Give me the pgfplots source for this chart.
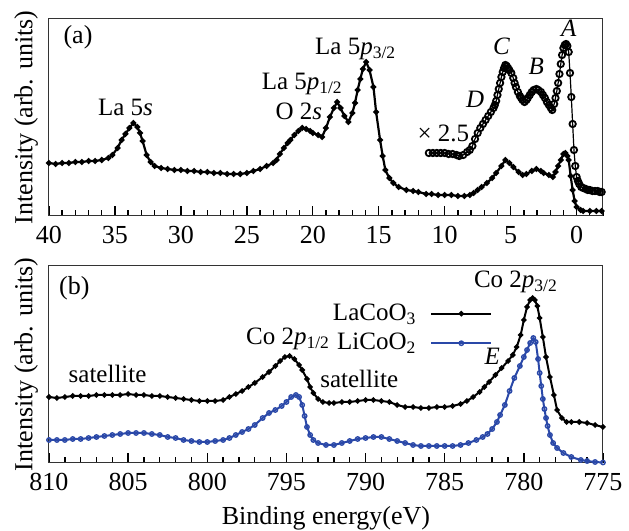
\documentclass[border=0pt]{standalone}
\usepackage{fontspec}
\setmainfont{Liberation Serif}
\usepackage{pgfplots}
\pgfplotsset{compat=1.18}
\definecolor{lcblue}{RGB}{42,72,168}
\newcommand{\tfont}{\fontsize{13}{15}\selectfont}
\newcommand{\afont}{\fontsize{12.5}{14}\selectfont}
\pgfplotsset{
  xpsstyle/.style={
    width=277pt, height=98.5pt, scale only axis,
    x dir=reverse, ymin=0, ymax=197,
    ytick=\empty, xtick align=inside,
    xtick pos=bottom,
    major tick length=5pt, minor tick length=3pt,
    axis line style={black!80, line width=0.5pt},
    every x tick/.append style={draw=black, line width=0.7pt},
    every minor tick/.append style={draw=black, line width=0.7pt},
    ticklabel style={font=\tfont},
    xticklabel style={yshift=-1.5pt},
    /pgf/number format/assume math mode=true,
    ylabel={Intensity (arb. units)},
    ylabel style={font=\tfont, at={(axis description cs:-0.03,0.5)}, anchor=base},
    clip=false,
  },
  legend image code/.code={\draw[mark repeat=2,mark phase=2,#1] plot coordinates {(0pt,0pt) (15pt,0pt) (30pt,0pt)};},
}
\begin{document}
\begin{tikzpicture}
\useasboundingbox (0,0) rectangle (314.5pt,265.5pt);
% ---------------- panel (a)
\begin{axis}[xpsstyle, at={(24.5pt,157.5pt)}, anchor=south west,
  xmin=-2, xmax=40, xtick={0,5,10,15,20,25,30,35,40}, minor xtick={-2,-1,1,2,3,4,6,7,8,9,11,12,13,14,16,17,18,19,21,22,23,24,26,27,28,29,31,32,33,34,36,37,38,39}]
\addplot[black, line width=1.1pt, mark=*, mark size=0.85pt] coordinates {
(40,53) (39.5,52) (39,53) (38.5,53) (38,54) (37.5,54) (37,55) (36.5,55) (36,56) (35.5,58) (35.2,61) (34.8,68) (34.5,76) (34.2,82) (33.9,88) (33.6,93) (33.3,89) (33.1,83) (32.9,75) (32.6,61) (32.3,54) (32.0,50) (31.5,48) (31,47) (30.5,46) (30,46) (29.5,45) (29,45) (28.5,44) (28,44) (27.5,43) (27,43) (26.5,42) (26,42) (25.5,42) (25,43) (24.5,45) (24,47) (23.5,50) (23,53) (22.75,56) (22.5,62) (22.2,68) (21.9,73) (21.7,76) (21.4,81) (21.1,85) (20.8,88) (20.5,87) (20.2,85) (20.0,83) (19.6,81) (19.3,79) (19.0,88) (18.7,99) (18.4,108) (18.15,114) (17.9,108) (17.6,100) (17.3,94) (17.0,103) (16.8,113) (16.6,126) (16.4,137) (16.2,147) (15.95,154) (15.7,146) (15.4,129) (15.2,104) (14.9,76) (14.7,60) (14.5,46) (14.2,38) (13.9,33) (13.5,29) (12.9,26) (12.4,25) (12.0,24) (11.4,22) (11,22) (10.5,21) (10,21) (9.5,21) (9,20) (8.5,20) (8.1,21) (7.8,23) (7.5,26) (7.2,29) (6.8,33) (6.4,38) (6.1,43) (5.7,50) (5.4,56) (5.1,53) (4.8,49) (4.4,44) (4.1,41) (3.8,42) (3.4,45) (3.05,47) (2.7,45) (2.5,43) (2.1,41) (1.8,39) (1.6,44) (1.4,50) (1.2,56) (1.0,62) (0.85,63) (0.7,60) (0.6,56) (0.45,40) (0.3,26) (0.15,15) (0.0,9) (-0.3,6) (-0.5,5) (-1,5) (-1.5,5) (-1.9,5)
};
\addplot[black, line width=0.6pt, mark=o, mark size=1.6pt, mark options={line width=0.9pt}] coordinates {
(11.2,63) (10.9,63) (10.6,63) (10.3,63) (10,63) (9.7,62) (9.4,62) (9.1,61) (8.9,60) (8.6,61) (8.3,64) (8.1,66) (7.9,70) (7.7,77) (7.5,83) (7.3,88) (7.1,92) (6.9,96) (6.7,100) (6.5,104) (6.3,108) (6.2,111) (6.1,115) (6.0,121) (5.9,127) (5.8,133) (5.7,139) (5.6,144) (5.5,148) (5.4,151) (5.3,150) (5.2,148) (5.1,146) (4.95,143) (4.8,138) (4.7,133) (4.6,129) (4.45,124) (4.3,120) (4.2,118) (4.1,116) (3.95,114) (3.8,116) (3.7,118) (3.55,121) (3.4,124) (3.25,126) (3.05,127) (2.9,126) (2.7,124) (2.55,121) (2.4,118) (2.25,114) (2.1,111) (1.95,108) (1.85,106) (1.7,112) (1.6,118) (1.5,125) (1.4,133) (1.3,142) (1.2,152) (1.1,161) (1.0,168) (0.9,171) (0.8,172) (0.7,170) (0.6,164) (0.5,143) (0.4,119) (0.3,92) (0.2,66) (0.1,50) (0.0,39) (-0.1,35) (-0.2,32) (-0.35,29) (-0.5,28) (-0.7,27) (-0.85,26) (-1.0,26) (-1.2,25) (-1.4,25) (-1.6,25) (-1.75,24) (-1.9,24)
};
\node[font=\tfont] at (axis cs:37.8,179) {(a)};
\node[font=\afont, anchor=base] at (axis cs:34.2,100) {La 5\textit{s}};
\node[font=\afont, anchor=base] at (axis cs:20.8,126) {La 5\textit{p}\textsubscript{1/2}};
\node[font=\afont, anchor=base] at (axis cs:21.05,96) {O 2\textit{s}};
\node[font=\afont, anchor=base] at (axis cs:16.75,161) {La 5\textit{p}\textsubscript{3/2}};
\node[font=\afont, anchor=base] at (axis cs:10.1,74) {× 2.5};
\node[font=\afont\itshape, anchor=base] at (axis cs:7.7,108) {D};
\node[font=\afont\itshape, anchor=base] at (axis cs:5.7,161) {C};
\node[font=\afont\itshape, anchor=base] at (axis cs:3.05,141) {B};
\node[font=\afont\itshape, anchor=base] at (axis cs:0.6,179) {A};
\end{axis}
% ---------------- panel (b)
\begin{axis}[xpsstyle, at={(24.5pt,34pt)}, anchor=south west,
  xmin=775, xmax=810, xtick={775,780,785,790,795,800,805,810}, minor xtick={776,777,778,779,781,782,783,784,786,787,788,789,791,792,793,794,796,797,798,799,801,802,803,804,806,807,808,809},
  xlabel={Binding energy(eV)},
  xlabel style={font=\tfont, at={(axis description cs:0.5,0)}, anchor=base, yshift=-31pt},
  legend style={at={(axis description cs:0.801,0.83)}, anchor=north east, draw=none, fill=none,
    font=\afont, inner sep=0pt, column sep=5pt, row sep=1pt},
  legend plot pos=right, legend cell align=right]
\addplot[black, line width=1pt, mark=*, mark size=0.8pt] coordinates {
(810,66) (809.5,65) (809,66) (808.5,67) (808,67) (807.5,67) (807,68) (806.5,68) (806,68) (805.5,68) (805,69) (804.5,68) (804,68) (803.5,67) (803,67) (802.5,66) (802,65) (801.5,64) (801,63) (800.5,62) (800,62) (799.5,62) (799,63) (798.6,66) (798.2,69) (797.8,72) (797.4,76) (797,80) (796.5,86) (796.1,91) (795.7,97) (795.4,102) (795.1,106) (794.8,107) (794.5,104) (794.2,98) (794.0,93) (793.7,84) (793.5,76) (793.3,70) (793.0,64) (792.7,61) (792.3,60) (792,60) (791.5,61) (791,61) (790.5,62) (790,63) (789.5,63) (789,62) (788.5,61) (788,58) (787.5,56) (787,56) (786.5,55) (786,55) (785.5,56) (785,56) (784.5,57) (784,59) (783.6,62) (783.2,66) (782.8,71) (782.5,76) (782.2,81) (781.8,88) (781.4,95) (781.0,102) (780.7,108) (780.45,116) (780.2,128) (780.0,143) (779.8,156) (779.6,163) (779.45,165) (779.3,163) (779.15,157) (779.0,145) (778.8,126) (778.6,106) (778.35,86) (778.1,68) (777.9,53) (777.6,45) (777.3,41) (777,41) (776.5,41) (776,40) (775.5,38) (775,36)
};
\addlegendentry{LaCoO\textsubscript{3}}
\addplot[lcblue, line width=1pt, mark=o, mark size=1.1pt, mark options={line width=0.7pt}] coordinates {
(810,23) (809.5,23) (809,23) (808.5,24) (808,24) (807.5,25) (807,26) (806.5,27) (806,28) (805.5,29) (805,30) (804.5,30) (804,30) (803.5,29) (803,28) (802.5,26) (802,25) (801.5,23) (801,22) (800.5,21) (800,21) (799.5,22) (799,23) (798.6,25) (798.2,28) (797.8,31) (797.4,34) (797,38) (796.5,45) (796.1,50) (795.7,53) (795.3,57) (795,61) (794.7,66) (794.4,68) (794.2,66) (794.0,58) (793.85,47) (793.7,36) (793.5,28) (793.3,23) (793.0,20) (792.5,18) (792,18) (791.5,20) (791,22) (790.5,24) (790,25) (789.5,26) (789,26) (788.5,24) (788,22) (787.5,20) (787,18) (786.5,17) (786,17) (785.5,17) (785,17) (784.5,17) (784,18) (783.5,20) (783,23) (782.6,26) (782.3,29) (782,34) (781.7,41) (781.5,48) (781.2,58) (780.9,72) (780.6,85) (780.25,97) (780.0,106) (779.8,113) (779.6,120) (779.4,125) (779.25,121) (779.1,104) (779.0,90) (778.9,77) (778.8,64) (778.7,54) (778.6,45) (778.5,37) (778.35,28) (778.15,20) (777.9,15) (777.5,10) (777.0,6) (776.4,3) (776,2) (775.5,1) (775,0.5)
};
\addlegendentry{LiCoO\textsubscript{2}}
\node[font=\tfont] at (axis cs:808.4,175) {(b)};
\node[font=\afont, anchor=base] at (axis cs:806.3,80) {satellite};
\node[font=\afont, anchor=base] at (axis cs:794.9,118) {Co 2\textit{p}\textsubscript{1/2}};
\node[font=\afont, anchor=base] at (axis cs:790.4,75) {satellite};
\node[font=\afont, anchor=base] at (axis cs:780.5,175) {Co 2\textit{p}\textsubscript{3/2}};
\node[font=\afont\itshape, anchor=base] at (axis cs:782.0,98) {E};
\end{axis}
\end{tikzpicture}
\end{document}
